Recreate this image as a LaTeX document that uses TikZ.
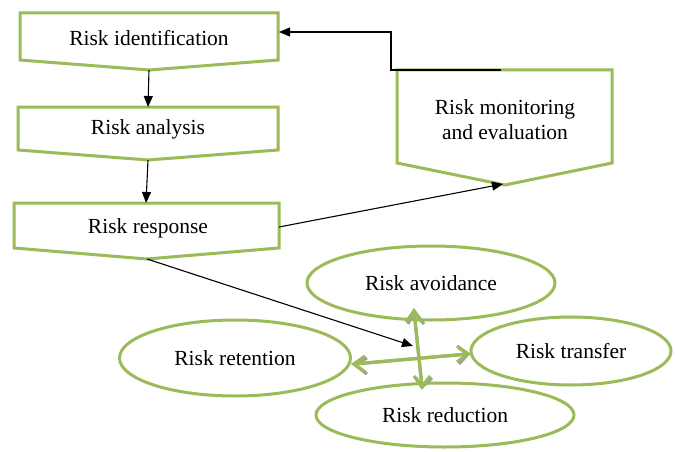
\documentclass[tikz,border=0pt]{standalone}
\usepackage{fontspec}
\setmainfont{Liberation Serif}
\usetikzlibrary{shapes.geometric,arrows.meta}
\definecolor{olivegr}{RGB}{155,187,89}
\begin{document}
\begin{tikzpicture}[x=1pt,y=-1pt,
  shp/.style={draw=olivegr,line width=3pt,line join=miter,fill=white},
  lbl/.style={font=\fontsize{21.5}{25}\selectfont,align=center,inner sep=0pt},
  oval/.style={ellipse,draw=olivegr,line width=3pt,fill=white,inner sep=0pt,font=\fontsize{21.5}{25}\selectfont},
  blk/.style={draw=black,line width=1.1pt,-{Triangle[length=11pt,width=9pt]}},
  gline/.style={draw=olivegr,line width=3.2pt,line join=miter,line cap=butt},
  gshadow/.style={draw=gray!75,line width=3.2pt,line join=miter}]
\useasboundingbox[fill=white] (0,0) rectangle (675,452);

% process shapes
\draw[shp] (20,13) -- (278,13) -- (278,60) -- (149,70) -- (20,60) -- cycle;
\draw[shp] (18,107) -- (278,107) -- (278,150) -- (148,160) -- (18,150) -- cycle;
\draw[shp] (14,203) -- (279,203) -- (279,248) -- (147,259) -- (14,248) -- cycle;
\draw[shp] (397,70) -- (612,70) -- (612,163) -- (505,185) -- (397,163) -- cycle;

\node[lbl] (ident) at (149,38) {Risk identification};
\node[lbl] (anal) at (148,129) {Risk analysis};
\node[lbl] (resp) at (148,228) {Risk response};
\node[lbl] (monit) at (505,120) {Risk monitoring\\and evaluation};

% named anchors on shapes
\coordinate (identTip) at (149,70);
\coordinate (identRight) at (279,32);
\coordinate (analTop) at (148,107);
\coordinate (analTip) at (148,160);
\coordinate (respTop) at (146,203);
\coordinate (respRight) at (279,227);
\coordinate (respTip) at (147,259);
\coordinate (monitTop) at (501,70);
\coordinate (monitTip) at (503,184);
\coordinate (bendA) at (391,70);
\coordinate (bendB) at (391,32);
\coordinate (hub) at (413,346);

% ellipses
\node[oval,minimum width=248pt,minimum height=74pt] (avoid) at (431,283) {Risk avoidance};
\node[oval,minimum width=231pt,minimum height=76pt] (reten) at (235,358) {Risk retention};
\node[oval,minimum width=200pt,minimum height=68pt] (trans) at (571,351) {Risk transfer};
\node[oval,minimum width=258pt,minimum height=64pt] (reduc) at (445,415) {Risk reduction};

% black connectors
\draw[blk] (identTip) -- (analTop);
\draw[blk] (analTip) -- (respTop);
\draw[blk] (respRight) -- (monitTip);
\draw[blk] (monitTop) -- (bendA) -- (bendB) -- (identRight);
\draw[blk] (respTip) -- (hub);

% green double arrows (avoidance <-> reduction, retention <-> transfer)
\coordinate (vTop) at (414,311);
\coordinate (vBot) at (422,387);
\coordinate (hL) at (354,364);
\coordinate (hR) at (468,354);
\begin{scope}[shift={(2,2)}]
  \draw[gshadow] (hL) -- (hR);
  \draw[gshadow] (vTop) -- (vBot);
  \draw[gshadow] (365,356) -- (hL) -- (365,372);
  \draw[gshadow] (457,346) -- (hR) -- (457,362);
  \draw[gshadow] (406,322) -- (vTop) -- (422,322);
  \draw[gshadow] (414,376) -- (vBot) -- (430,376);
\end{scope}
\draw[gline] (vTop) -- (vBot);
\draw[gline] (hL) -- (hR);
\draw[gline] (365,356) -- (hL) -- (365,372);
\draw[gline] (457,346) -- (hR) -- (457,362);
\draw[gline] (406,322) -- (vTop) -- (422,322);
\draw[gline] (414,376) -- (vBot) -- (430,376);
\end{tikzpicture}
\end{document}
